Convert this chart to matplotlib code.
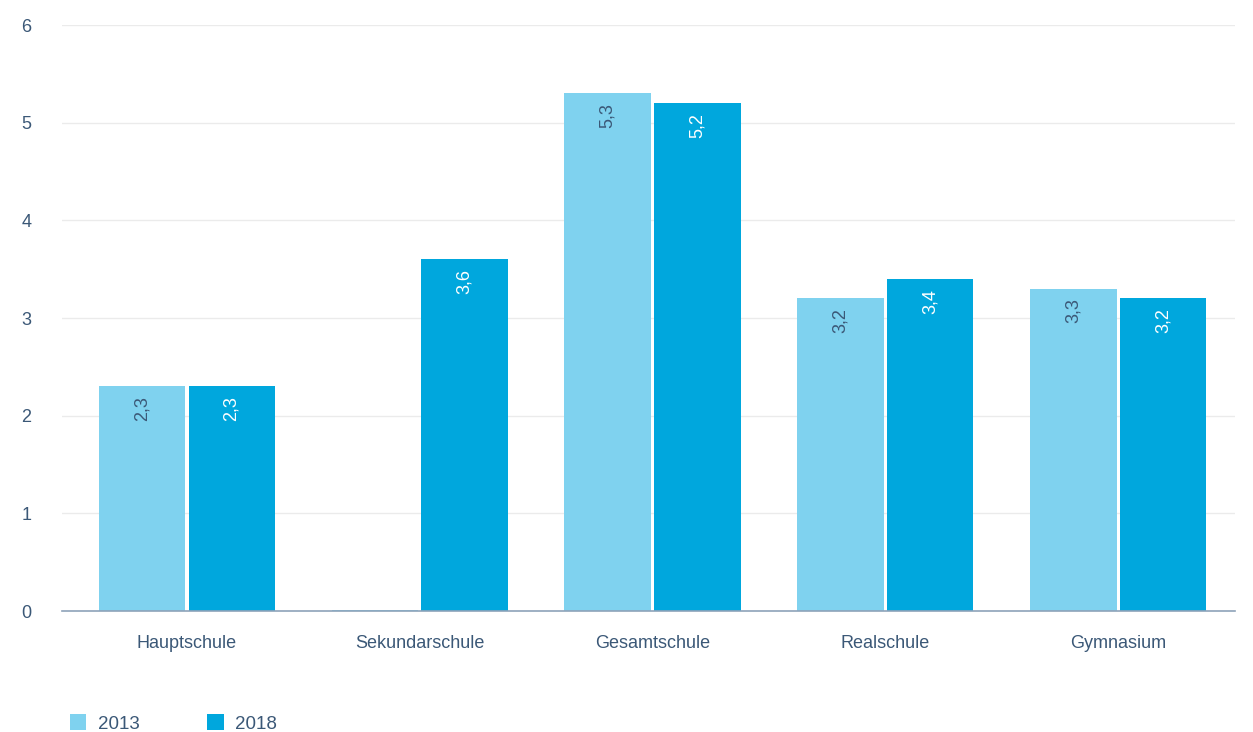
import numpy as np
import matplotlib.pyplot as plt

schulformen = ['Hauptschule', 'Sekundarschule', 'Gesamtschule', 'Realschule', 'Gymnasium']
werte_2013 = [2.3, 0.01, 5.3, 3.2, 3.3]
werte_2018 = [2.3, 3.6, 5.2, 3.4, 3.2]
labels_2013 = ['2,3', '', '5,3', '3,2', '3,3']
labels_2018 = ['2,3', '3,6', '5,2', '3,4', '3,2']

farbe_2013 = '#7fd2ef'
farbe_2018 = '#00a7dd'
textfarbe = '#3b5877'

plt.rcParams['font.family'] = ['Liberation Sans', 'DejaVu Sans']

fig = plt.figure(figsize=(12.53, 7.32), dpi=100)
ax = fig.add_axes([0.0495, 0.1653, 0.936, 0.8005])

x = np.arange(len(schulformen))
breite = 0.37
versatz = 0.193

b1 = ax.bar(x - versatz, werte_2013, breite, color=farbe_2013, label='2013', zorder=3)
b2 = ax.bar(x + versatz, werte_2018, breite, color=farbe_2018, label='2018', zorder=3)

for rect, txt in zip(b1, labels_2013):
    if txt:
        ax.annotate(txt, (rect.get_x() + rect.get_width() / 2, rect.get_height()),
                    xytext=(0, -7), textcoords='offset points', rotation=90,
                    ha='center', va='top', fontsize=13, color=textfarbe, zorder=4)
for rect, txt in zip(b2, labels_2018):
    ax.annotate(txt, (rect.get_x() + rect.get_width() / 2, rect.get_height()),
                xytext=(0, -7), textcoords='offset points', rotation=90,
                ha='center', va='top', fontsize=13, color='white', zorder=4)

ax.set_xlim(-0.535, 4.5)
ax.set_ylim(0, 6)
ax.set_yticks(range(0, 7))
ax.set_xticks(x)
ax.set_xticklabels(schulformen)
ax.tick_params(axis='both', length=0, labelsize=13, colors=textfarbe)
ax.tick_params(axis='y', pad=22)
ax.tick_params(axis='x', pad=17)
ax.yaxis.grid(True, color='#ebebeb', linewidth=1, zorder=0)
for s in ['top', 'right', 'left']:
    ax.spines[s].set_visible(False)
ax.spines['bottom'].set_color('#8ea3b9')
ax.spines['bottom'].set_linewidth(1.2)
ax.spines['bottom'].set_zorder(5)

leg = fig.legend(handles=[b1, b2], loc='lower left', bbox_to_anchor=(0.042, -0.024),
                 ncol=2, frameon=False, fontsize=13.5, handlelength=0.9, handleheight=0.9,
                 columnspacing=3.6, handletextpad=0.6)
for t in leg.get_texts():
    t.set_color(textfarbe)

fig.savefig('out.png', dpi=100, facecolor='white')
